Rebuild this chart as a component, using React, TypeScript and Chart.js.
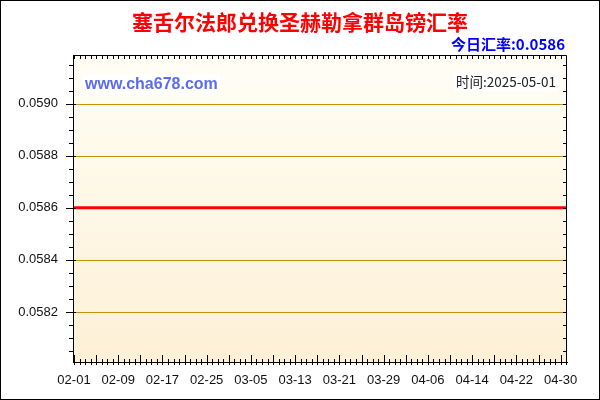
import { useEffect, useRef } from "react"
import { Chart, registerables } from "chart.js"

Chart.register(...registerables)

// 데이터
const rateDates = [
  "2025-02-01", "2025-02-09", "2025-02-17", "2025-02-25", "2025-03-05", "2025-03-13", "2025-03-21",
  "2025-03-29", "2025-04-06", "2025-04-14", "2025-04-22", "2025-04-30", "2025-05-01",
]
const rates = [
  0.0586, 0.0586, 0.0586, 0.0586, 0.0586, 0.0586, 0.0586,
  0.0586, 0.0586, 0.0586, 0.0586, 0.0586, 0.0586,
]
const xTickLabels = [
  "02-01", "02-09", "02-17", "02-25", "03-05", "03-13",
  "03-21", "03-29", "04-06", "04-14", "04-22", "04-30",
]
const yTickValues = [0.0582, 0.0584, 0.0586, 0.0588, 0.059]

const titleText = "塞舌尔法郎兑换圣赫勒拿群岛镑汇率"
const todayText = "今日汇率:0.0586"
const siteText = "www.cha678.com"
const timeText = "时间:2025-05-01"

const startDay = Date.UTC(2025, 1, 1)
const dayOf = (s: string) => {
  const [y, m, d] = s.split("-").map(Number)
  return (Date.UTC(y, m - 1, d) - startDay) / 86400000
}

const cjkFont = '"Noto Sans CJK SC", "Liberation Sans", sans-serif'
const latinFont = '"Liberation Sans", Arial, sans-serif'

// 배경, 격자, 테두리, 눈금, 텍스트
const decorPlugin = {
  id: "decor",
  beforeDraw(chart: Chart) {
    const { ctx, chartArea: a } = chart
    ctx.save()
    ctx.fillStyle = "#ffffff"
    ctx.fillRect(0, 0, chart.width, chart.height)
    const g = ctx.createLinearGradient(0, a.top, 0, a.bottom)
    g.addColorStop(0, "#fffef5")
    g.addColorStop(1, "#fdf0d6")
    ctx.fillStyle = g
    ctx.fillRect(a.left, a.top, a.right - a.left, a.bottom - a.top)
    ctx.restore()
  },
  beforeDatasetsDraw(chart: Chart) {
    const { ctx, chartArea: a } = chart
    const ys = chart.scales.y
    ctx.save()
    ctx.strokeStyle = "#c8900a"
    ctx.lineWidth = 1
    ctx.beginPath()
    yTickValues.forEach((v) => {
      const py = Math.round(ys.getPixelForValue(v)) + 0.5
      ctx.moveTo(a.left, py)
      ctx.lineTo(a.right, py)
    })
    ctx.stroke()
    ctx.restore()
  },
  afterDraw(chart: Chart) {
    const { ctx, chartArea: a } = chart
    const xs = chart.scales.x
    const ys = chart.scales.y
    ctx.save()
    ctx.strokeStyle = "#000"
    ctx.lineWidth = 1

    // 위/오른쪽 테두리
    ctx.beginPath()
    ctx.moveTo(a.left, a.top - 0.5)
    ctx.lineTo(a.right - 0.5, a.top - 0.5)
    ctx.lineTo(a.right - 0.5, a.bottom)
    ctx.stroke()

    // x 눈금 (하루 단위)
    ctx.beginPath()
    for (let d = 0; d <= Math.floor(xs.max); d++) {
      const px = Math.round(xs.getPixelForValue(d)) + 0.5
      const major = d % 4 === 0
      ctx.moveTo(px, a.bottom + 3)
      ctx.lineTo(px, a.bottom - (major ? 7 : 3))
      ctx.moveTo(px, a.top)
      ctx.lineTo(px, a.top + 3)
    }
    // y 눈금
    const step = 0.00005
    for (let v = Math.ceil(ys.min / step) * step; v <= ys.max; v += step) {
      const py = Math.round(ys.getPixelForValue(v)) + 0.5
      const major = yTickValues.some((t) => Math.abs(t - v) < 1e-9)
      ctx.moveTo(a.left - (major ? 7 : 4), py)
      ctx.lineTo(a.left + (major ? 3 : 0), py)
      ctx.moveTo(a.right - 4, py)
      ctx.lineTo(a.right, py)
    }
    ctx.stroke()

    // 바깥 테두리
    ctx.strokeRect(0.5, 0.5, chart.width - 1, chart.height - 1)

    // 제목
    ctx.textBaseline = "middle"
    ctx.textAlign = "center"
    ctx.fillStyle = "#ff0000"
    ctx.font = `bold 21px ${cjkFont}`
    ctx.fillText(titleText, 300, 22)

    ctx.textAlign = "right"
    ctx.fillStyle = "#0000ff"
    ctx.font = `bold 15px ${cjkFont}`
    ctx.fillText(todayText, a.right - 2, 44)

    // 워터마크
    ctx.textAlign = "left"
    ctx.font = `bold 16px ${latinFont}`
    const sw = ctx.measureText(siteText).width
    ctx.fillStyle = "#ffffff"
    ctx.fillRect(a.left + 10, 74, sw + 4, 21)
    ctx.fillStyle = "#5b6cf2"
    ctx.fillText(siteText, a.left + 12, 85)

    ctx.textAlign = "right"
    ctx.font = `13.5px ${cjkFont}`
    const tw = ctx.measureText(timeText).width
    ctx.fillStyle = "#ffffff"
    ctx.fillRect(a.right - 13 - tw, 72, tw + 4, 19)
    ctx.fillStyle = "#222"
    ctx.fillText(timeText, a.right - 11, 81.5)
    ctx.restore()
  },
}

export default function App() {
  const chartRef = useRef<HTMLCanvasElement>(null)
  const chartInstance = useRef<Chart | null>(null)

  useEffect(() => {
    if (!chartRef.current) return
    if (chartInstance.current) chartInstance.current.destroy()

    const ctx = chartRef.current.getContext("2d")
    if (!ctx) return

    chartInstance.current = new Chart(ctx, {
      type: "line",
      data: {
        datasets: [
          {
            label: "汇率",
            data: rateDates.map((d, i) => ({ x: dayOf(d), y: rates[i] })),
            borderColor: "#ff0000",
            borderWidth: 3,
            pointRadius: 0,
            tension: 0,
          },
        ],
      },
      options: {
        responsive: false,
        animation: false,
        devicePixelRatio: 1,
        layout: { padding: { top: 56, right: 33, bottom: 0, left: 0 } },
        plugins: {
          legend: { display: false },
          title: { display: false },
          tooltip: { enabled: false },
        },
        scales: {
          x: {
            type: "linear",
            min: -0.18,
            max: 89.15,
            afterBuildTicks: (scale: any) => {
              scale.ticks = xTickLabels.map((l) => ({ value: dayOf("2025-" + l) }))
            },
            afterFit: (scale: any) => {
              scale.height = 38
            },
            ticks: {
              padding: 11,
              maxRotation: 0,
              autoSkip: false,
              color: "#111",
              font: { family: latinFont, size: 13 },
              callback: (_v: any, i: number) => xTickLabels[i],
            },
            grid: { drawOnChartArea: false, drawTicks: false },
            border: { display: true, color: "#000", width: 1 },
          },
          y: {
            min: 0.058008,
            max: 0.059183,
            afterBuildTicks: (scale: any) => {
              scale.ticks = yTickValues.map((v) => ({ value: v }))
            },
            afterFit: (scale: any) => {
              scale.width = 73
            },
            ticks: {
              padding: 15,
              color: "#111",
              font: { family: latinFont, size: 13 },
              callback: (v: any) => Number(v).toFixed(4),
            },
            grid: { drawOnChartArea: false, drawTicks: false },
            border: { display: true, color: "#000", width: 1 },
          },
        },
      },
      plugins: [decorPlugin],
    })

    return () => {
      if (chartInstance.current) {
        chartInstance.current.destroy()
        chartInstance.current = null
      }
    }
  }, [])

  return (
    <div style={{ position: "fixed", left: 0, top: 0, width: 600, height: 400 }}>
      <canvas ref={chartRef} width={600} height={400} />
    </div>
  )
}
